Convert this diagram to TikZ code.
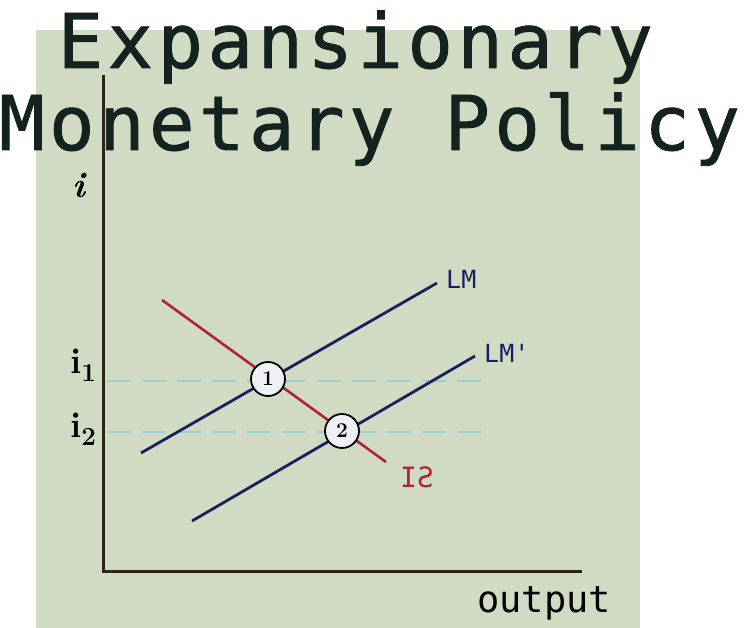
\documentclass[tikz,border=0pt]{standalone}
\usepackage{fontspec}
\newfontfamily\monofont{DejaVu Sans Mono}
\newfontfamily\titlefont[LetterSpace=6,FakeBold=1.2]{DejaVu Sans Mono}
\definecolor{bg}{HTML}{D1DAC2}
\definecolor{titlec}{HTML}{14231F}
\definecolor{navy}{HTML}{1C1F5E}
\definecolor{isred}{HTML}{B0243A}
\definecolor{teal}{HTML}{9CCFD0}
\definecolor{axisc}{HTML}{2A2518}
\definecolor{eqfill}{HTML}{EEF0F6}
\tikzset{
  titletext/.style={font=\titlefont\fontsize{75.5}{75.5}\selectfont, text=titlec, inner sep=0pt, anchor=base west},
  axisline/.style={draw=axisc, line width=3pt},
  guide/.style={draw=teal, line width=2.2pt, dash pattern=on 24pt off 11pt},
  lmline/.style={draw=navy, line width=2.8pt},
  isline/.style={draw=isred, line width=2.6pt},
  eqnode/.style={circle, draw=black, line width=1.8pt, fill=eqfill, minimum size=34pt, inner sep=0pt, font=\bfseries\fontsize{21}{21}\selectfont},
  curvelabel/.style={font=\monofont\fontsize{25}{25}\selectfont, inner sep=0pt, anchor=base west},
  ilabel/.style={font=\bfseries\fontsize{36}{36}\selectfont, inner sep=0pt, anchor=base west},
}
\begin{document}
\begin{tikzpicture}[x=1pt,y=-1pt]
\useasboundingbox (0,0) rectangle (754,628);
\fill[white] (0,0) rectangle (754,628);
\fill[bg] (36,30) rectangle (640,628);

% title
\node[titletext] (t1) at (57.5,68) {Expansionary};
\node[titletext] (t2) at (-1,150) {Monetary Policy};

% axes
\coordinate (ytop) at (103,75);
\coordinate (orig) at (103,571);
\coordinate (xend) at (582,571);
\draw[axisline] (ytop) -- (orig) -- (xend);

% guides
\coordinate (g1s) at (107,381);
\coordinate (g1e) at (485,381);
\coordinate (g2s) at (107,432);
\coordinate (g2e) at (485,432);
\draw[guide] (g1s) -- (g1e);
\draw[guide] (g2s) -- (g2e);

% curves
\coordinate (lma) at (141,453);
\coordinate (lmb) at (437,283);
\coordinate (lmpa) at (192,521);
\coordinate (lmpb) at (475,356);
\coordinate (isa) at (162,300);
\coordinate (isb) at (386,462);
\draw[lmline] (lma) -- (lmb);
\draw[lmline] (lmpa) -- (lmpb);
\draw[isline] (isa) -- (isb);

% equilibria
\node[eqnode] (e1) at (268,379) {1};
\node[eqnode] (e2) at (342,431) {2};

% labels
\node[curvelabel, text=navy] (lmlab) at (446,288) {LM};
\node[curvelabel, text=navy] (lmplab) at (484,362) {LM'};
\node[curvelabel, text=isred, font=\monofont\fontsize{28}{28}\selectfont] (islab) at (400,487) {I\reflectbox{S}};
\node[curvelabel, font=\monofont\fontsize{37}{37}\selectfont, text=black] (outlab) at (477,612) {output};

\node[ilabel] (ilab) at (72,198) {\textit{i}};
\node[ilabel] (i1lab) at (70,373) {i\textsubscript{\fontsize{26}{26}\selectfont 1}};
\node[ilabel] (i2lab) at (70,437) {i\textsubscript{\fontsize{26}{26}\selectfont 2}};
\end{tikzpicture}
\end{document}
